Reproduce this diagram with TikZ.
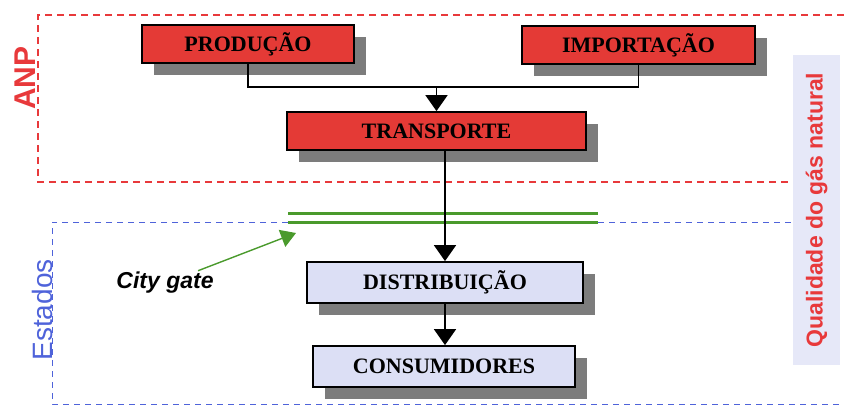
\documentclass[tikz,border=0pt]{standalone}
\usepackage{fontspec}
\setmainfont{Liberation Serif}
\setsansfont{Liberation Sans}
\usetikzlibrary{shadows,arrows.meta}
\definecolor{anpred}{HTML}{E8393B}
\definecolor{boxred}{HTML}{E43A36}
\definecolor{boxblue}{HTML}{DCDFF5}
\definecolor{qualblue}{HTML}{E6E8F8}
\definecolor{estblue}{HTML}{4F63DA}
\definecolor{gategreen}{HTML}{4A9A2C}
\definecolor{shadowgray}{HTML}{7C7C7C}

\begin{document}
\begin{tikzpicture}[x=1pt,y=-1pt,
	stage/.style={draw=black, line width=1.8pt, minimum height=38pt, inner sep=0pt,
		font=\fontsize{22}{24}\selectfont\bfseries,
		drop shadow={shadow xshift=12pt, shadow yshift=-12pt, fill=shadowgray, opacity=1}},
	redstage/.style={stage, fill=boxred},
	bluestage/.style={stage, fill=boxblue, minimum height=41pt},
	anpline/.style={anpred, line width=1.3pt, dash pattern=on 7pt off 5pt},
	estline/.style={estblue, line width=1pt, dash pattern=on 6pt off 5pt},
	flow/.style={line width=1.8pt, -{Triangle[width=22pt,length=16pt]}},
	gateline/.style={gategreen, line width=3pt},
	sidelabel/.style={font=\sffamily\bfseries, rotate=90}]
	\useasboundingbox (0,0) rectangle (844,407);

	% regions
	\draw[anpline] (844,15) -- (38,15) -- (38,182) -- (793,182);
	\node[sidelabel, text=anpred, font=\fontsize{30}{30}\sffamily\bfseries] (anp) at (25,78) {ANP};
	\node[rotate=90, text=estblue, font=\fontsize{28}{28}\sffamily] (estados) at (42,310) {Estados};
	\node[fill=qualblue, minimum width=310pt, minimum height=47pt, rotate=90,
		text=anpred, font=\fontsize{23}{23}\sffamily\bfseries] (qual) at (816.5,210) {Qualidade do gás natural};

	% city gate
	\coordinate (gateA) at (288,213);
	\coordinate (gateB) at (598,213);
	\coordinate (gateC) at (288,222);
	\coordinate (gateD) at (598,222);
	\draw[gateline] (gateA) -- (gateB);
	\draw[gateline] (gateC) -- (gateD);
	\draw[estline] (gateC) -- (52,222) -- (52,404) -- (844,404);
	\draw[estline] (gateD) -- (793,222);
	\node[font=\fontsize{23}{23}\sffamily\bfseries\itshape] (gate) at (165,283) {City gate};
	\coordinate (gatetip) at (296,233);
	\draw[gategreen, line width=1.4pt, -{Triangle[width=18pt,length=15pt]}] ([xshift=33pt,yshift=-2pt]gate.north) -- (gatetip);

	% stages
	\node[redstage, minimum width=212pt] (prod) at (248,44) {PRODUÇÃO};
	\node[redstage, minimum width=233pt] (imp) at (638.5,45) {IMPORTAÇÃO};
	\node[redstage, minimum width=299pt] (transp) at (436.5,131) {TRANSPORTE};
	\node[bluestage, minimum width=276pt] (distr) at (445,282.5) {DISTRIBUIÇÃO};
	\node[bluestage, minimum width=262pt] (cons) at (444,366.5) {CONSUMIDORES};

	% connectors
	\coordinate (join) at (436.5,87);
	\draw[line width=1.8pt] (prod.south) |- (join);
	\draw[line width=1.8pt] (imp.south) |- (join);
	\draw[flow] (join) -- (transp.north);
	\draw[flow] (distr.north |- transp.south) -- (distr.north);
	\draw[flow] (distr.south) -- (distr.south |- cons.north);
\end{tikzpicture}
\end{document}
